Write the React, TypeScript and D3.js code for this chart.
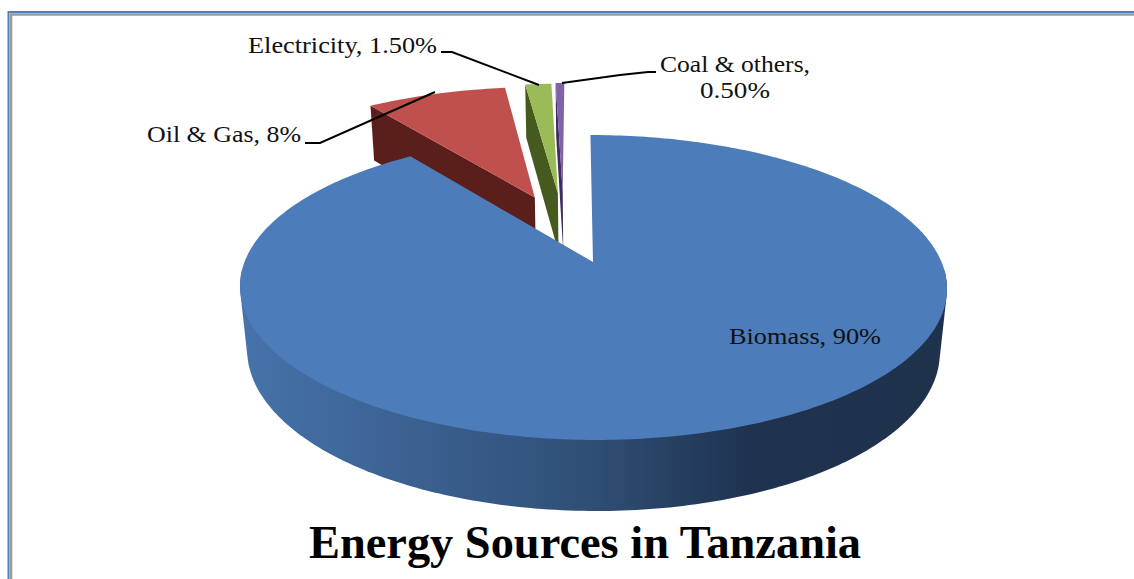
import React from "react";
import * as d3 from "d3";

// Energy mix shares, percent
const sources = ["Biomass", "Oil & Gas", "Electricity", "Coal & others"];
const shares = [90, 8, 1.5, 0.5];
const topColors = ["#4c7cb9", "#c0504d", "#9bbb59", "#7f62a8"];
const wallColors = ["url(#bioWall)", "#5a1e1b", "#46591f", "#3d2c5c"];
const chartTitle = "Energy Sources in Tanzania";

// How far each slice is pulled out of the pie, in disc radii
const pullX = [0, -0.176, -0.105, -0.09];
const pullY = [0, 0.47, 0.505, 0.513];

// Projection of the tilted disc
const apexX = 593;
const apexY = 262;
const radiusX = 348.5;
const radiusY = 148.2;
const shear = -3;
const perspective = 0.167;
const thickness = 64.2;
const recede = 0.02;

const project = (u: number, v: number, z: number): [number, number] => {
  const w = 1 + perspective * v + recede * z;
  return [apexX + (radiusX * u + shear * v) / w, apexY + (thickness * z - radiusY * v) / w];
};

const pieAngles = d3.pie<number>().sort(null).startAngle(0).endAngle(2 * Math.PI)(shares);
const pathOf = d3.line();

function rimAngles(i: number): number[] {
  const a = pieAngles[i];
  const steps = Math.max(4, Math.ceil((a.endAngle - a.startAngle) * 60));
  return d3.range(steps + 1).map((k) => a.startAngle + ((a.endAngle - a.startAngle) * k) / steps);
}

const rimPoint = (i: number, t: number, z: number) =>
  project(pullX[i] + Math.sin(t), pullY[i] + Math.cos(t), z);

const centre = (i: number, z: number) => project(pullX[i], pullY[i], z);

function topFace(i: number) {
  return pathOf([centre(i, 0), ...rimAngles(i).map((t) => rimPoint(i, t, 0))]) + "Z";
}

// Radial wall along the leading edge of a pulled-out slice
function radialWall(i: number) {
  const t = pieAngles[i].startAngle;
  return pathOf([centre(i, 0), rimPoint(i, t, 0), rimPoint(i, t, 1), centre(i, 1)]) + "Z";
}

// Visible outer wall: convex hull of the front part of both rims
function outerWall(i: number) {
  const front = rimAngles(i).filter((t) => Math.cos(t) < -0.05);
  const pts = front.flatMap((t) => [rimPoint(i, t, 0), rimPoint(i, t, 1)]);
  return pathOf(d3.polygonHull(pts) ?? []) + "Z";
}

const leaders: [number, number][][] = [
  [[305, 143], [320, 143], [435, 92]],
  [[441, 52], [452, 52], [539, 85]],
  [[562, 83], [620, 75], [648, 72], [656, 72]],
];

// Label placement; widths keep the slightly wide setting of the text
const labels = [
  { text: "Biomass, 90%", x: 729, y: 344, width: 152 },
  { text: "Oil & Gas, 8%", x: 147, y: 142, width: 154 },
  { text: "Electricity, 1.50%", x: 248, y: 53, width: 189 },
  { text: "Coal & others,", x: 660, y: 72, width: 150 },
  { text: "0.50%", x: 700, y: 98, width: 70 },
];

export default function App() {
  return (
    <svg
      width={1134}
      height={579}
      viewBox="0 0 1134 579"
      style={{ position: "absolute", left: 0, top: 0, display: "block", background: "#fff" }}
    >
      <defs>
        <linearGradient id="bioWall" gradientUnits="userSpaceOnUse" x1={240} x2={947} y1={0} y2={0}>
          <stop offset="0" stopColor="#4673ab" />
          <stop offset="0.5" stopColor="#2f4e75" />
          <stop offset="0.72" stopColor="#1f3350" />
          <stop offset="1" stopColor="#1e324c" />
        </linearGradient>
      </defs>

      {/* frame */}
      <path d="M8.5 579V12H1134" fill="none" stroke="#4f81bd" strokeWidth={2} />
      <path d="M11 579V14.5H1134" fill="none" stroke="#999" strokeWidth={2.5} />

      {/* pulled-out slices, back to front, then the main slice */}
      {[3, 2, 1].map((i) => (
        <g key={sources[i]}>
          <path d={radialWall(i)} fill={wallColors[i]} />
          <path d={topFace(i)} fill={topColors[i]} />
        </g>
      ))}
      <path d={outerWall(0)} fill={wallColors[0]} />
      <path d={topFace(0)} fill={topColors[0]} />

      {leaders.map((pts, i) => (
        <path key={i} d={pathOf(pts) ?? ""} fill="none" stroke="#000" strokeWidth={2} />
      ))}

      <g fontFamily="'Liberation Serif', serif" fontSize={23} fill="#111">
        {labels.map((l) => (
          <text key={l.text} x={l.x} y={l.y} textLength={l.width} lengthAdjust="spacingAndGlyphs">
            {l.text}
          </text>
        ))}
      </g>
      <text
        x={585}
        y={558}
        textAnchor="middle"
        fontFamily="'Liberation Serif', serif"
        fontWeight="bold"
        fontSize={46.4}
        fill="#000"
      >
        {chartTitle}
      </text>
    </svg>
  );
}
